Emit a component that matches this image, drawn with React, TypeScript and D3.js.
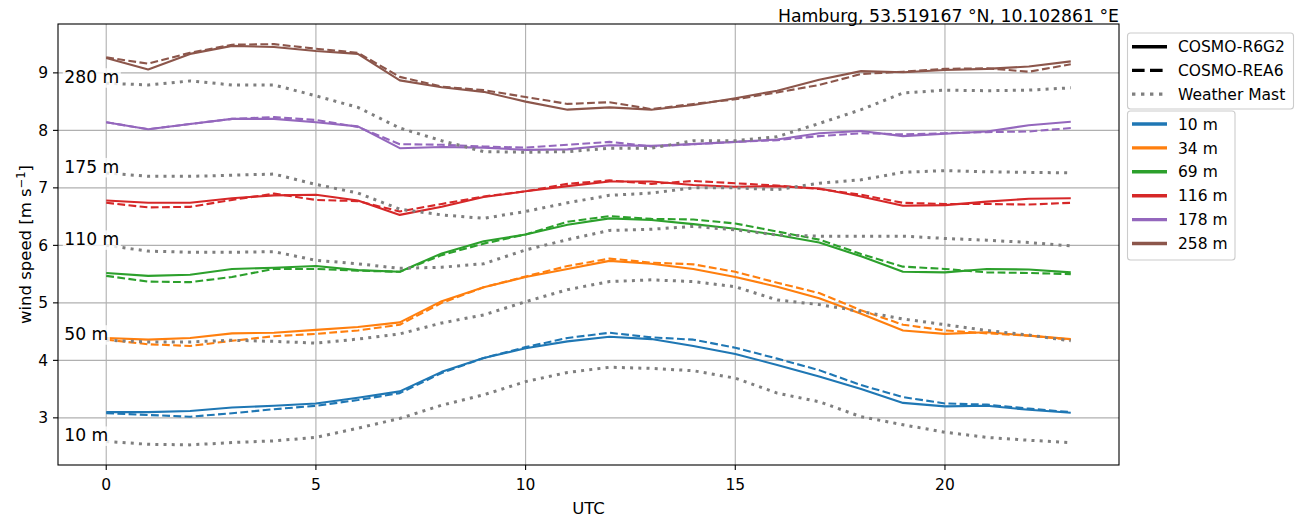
import * as d3 from "d3";

const W = 1299;
const H = 518;
const FONT = "DejaVu Sans, Verdana, sans-serif";

const hours = d3.range(0, 24);

const heights = ["10 m", "34 m", "69 m", "116 m", "178 m", "258 m"];
const colors = ["#1f77b4", "#ff7f0e", "#2ca02c", "#d62728", "#9467bd", "#8c564b"];

// COSMO-R6G2 (solid)
const r6g2_10 = [3.10, 3.10, 3.12, 3.18, 3.21, 3.25, 3.35, 3.46, 3.80, 4.04, 4.21, 4.33, 4.41, 4.37, 4.25, 4.11, 3.92, 3.72, 3.50, 3.26, 3.20, 3.21, 3.14, 3.09];
const r6g2_34 = [4.39, 4.36, 4.39, 4.47, 4.48, 4.53, 4.58, 4.66, 5.03, 5.27, 5.45, 5.59, 5.73, 5.68, 5.59, 5.45, 5.28, 5.08, 4.81, 4.52, 4.46, 4.49, 4.43, 4.37];
const r6g2_69 = [5.52, 5.47, 5.49, 5.59, 5.61, 5.64, 5.57, 5.54, 5.86, 6.07, 6.19, 6.36, 6.47, 6.44, 6.37, 6.29, 6.18, 6.05, 5.81, 5.54, 5.53, 5.59, 5.58, 5.53];
const r6g2_116 = [6.78, 6.74, 6.74, 6.82, 6.87, 6.88, 6.78, 6.53, 6.67, 6.84, 6.94, 7.03, 7.11, 7.11, 7.05, 7.02, 7.03, 6.99, 6.85, 6.69, 6.70, 6.76, 6.81, 6.82];
const r6g2_178 = [8.14, 8.02, 8.11, 8.20, 8.20, 8.14, 8.07, 7.69, 7.71, 7.70, 7.66, 7.67, 7.74, 7.73, 7.76, 7.80, 7.84, 7.95, 7.99, 7.90, 7.94, 7.98, 8.09, 8.15];
const r6g2_258 = [9.26, 9.06, 9.33, 9.47, 9.45, 9.38, 9.33, 8.87, 8.75, 8.67, 8.50, 8.36, 8.40, 8.36, 8.44, 8.56, 8.69, 8.88, 9.03, 9.01, 9.05, 9.07, 9.11, 9.20];

// COSMO-REA6 (dashed)
const rea6_10 = [3.08, 3.05, 3.02, 3.08, 3.15, 3.21, 3.31, 3.43, 3.78, 4.04, 4.23, 4.39, 4.48, 4.40, 4.36, 4.22, 4.03, 3.83, 3.57, 3.36, 3.25, 3.23, 3.16, 3.10];
const rea6_34 = [4.36, 4.28, 4.25, 4.34, 4.42, 4.46, 4.52, 4.62, 5.00, 5.27, 5.46, 5.64, 5.77, 5.70, 5.67, 5.54, 5.35, 5.17, 4.87, 4.62, 4.52, 4.47, 4.43, 4.36];
const rea6_69 = [5.47, 5.37, 5.36, 5.45, 5.59, 5.59, 5.56, 5.54, 5.83, 6.03, 6.19, 6.41, 6.51, 6.46, 6.45, 6.38, 6.24, 6.10, 5.85, 5.63, 5.59, 5.53, 5.52, 5.50];
const rea6_116 = [6.74, 6.66, 6.67, 6.79, 6.90, 6.79, 6.77, 6.59, 6.72, 6.85, 6.94, 7.07, 7.13, 7.07, 7.12, 7.08, 7.04, 6.98, 6.88, 6.74, 6.72, 6.72, 6.71, 6.74];
const rea6_178 = [8.14, 8.02, 8.11, 8.20, 8.23, 8.18, 8.06, 7.76, 7.75, 7.72, 7.70, 7.75, 7.80, 7.72, 7.76, 7.80, 7.83, 7.90, 7.95, 7.93, 7.95, 7.97, 7.98, 8.04];
const rea6_258 = [9.27, 9.16, 9.35, 9.49, 9.50, 9.42, 9.35, 8.93, 8.76, 8.70, 8.58, 8.46, 8.49, 8.37, 8.46, 8.54, 8.66, 8.79, 8.98, 9.02, 9.07, 9.08, 9.02, 9.15];

// Weather mast (dotted)
const mastLabels = ["10 m", "50 m", "110 m", "175 m", "280 m"];
const mast_10 = [2.59, 2.54, 2.53, 2.57, 2.60, 2.66, 2.82, 2.99, 3.22, 3.40, 3.63, 3.79, 3.88, 3.86, 3.82, 3.69, 3.43, 3.28, 3.02, 2.88, 2.75, 2.66, 2.61, 2.57];
const mast_50 = [4.35, 4.32, 4.32, 4.35, 4.33, 4.30, 4.37, 4.46, 4.65, 4.79, 5.02, 5.23, 5.37, 5.40, 5.37, 5.28, 5.05, 4.97, 4.85, 4.72, 4.62, 4.52, 4.44, 4.34];
const mast_110 = [6.00, 5.90, 5.88, 5.88, 5.89, 5.74, 5.68, 5.60, 5.62, 5.68, 5.92, 6.10, 6.26, 6.28, 6.33, 6.27, 6.18, 6.16, 6.16, 6.16, 6.12, 6.09, 6.05, 5.99];
const mast_175 = [7.26, 7.20, 7.20, 7.22, 7.24, 7.06, 6.91, 6.63, 6.53, 6.47, 6.59, 6.74, 6.87, 6.91, 7.00, 7.00, 6.97, 7.08, 7.14, 7.27, 7.30, 7.28, 7.27, 7.26];
const mast_280 = [8.82, 8.79, 8.86, 8.79, 8.79, 8.60, 8.40, 8.04, 7.82, 7.63, 7.62, 7.63, 7.69, 7.69, 7.82, 7.82, 7.89, 8.12, 8.36, 8.65, 8.70, 8.69, 8.70, 8.74];

const r6g2 = [r6g2_10, r6g2_34, r6g2_69, r6g2_116, r6g2_178, r6g2_258];
const rea6 = [rea6_10, rea6_34, rea6_69, rea6_116, rea6_178, rea6_258];
const mast = [mast_10, mast_50, mast_110, mast_175, mast_280];

const xTicks = [0, 5, 10, 15, 20];
const yTicks = [3, 4, 5, 6, 7, 8, 9];

const modelLegend = [
  { label: "COSMO-R6G2", dash: "none", color: "#000", width: 3.4 },
  { label: "COSMO-REA6", dash: "12.6 5.4", color: "#000", width: 3.4 },
  { label: "Weather Mast", dash: "3.4 5.6", color: "#7f7f7f", width: 3.4 },
];

const MAST_COLOR = "#7f7f7f";

// rough DejaVu Sans advance widths (em) for the label boxes
function textWidth(s: string, size: number) {
  let w = 0;
  for (const c of s) {
    if (c === " ") w += 0.318;
    else if (c === "m") w += 0.974;
    else w += 0.636;
  }
  return w * size;
}

export default function App() {
  const left = 58;
  const right = 1119;
  const top = 24;
  const bottom = 465;

  const x = d3.scaleLinear().domain([-1.15, 24.15]).range([left, right]);
  const y = d3.scaleLinear().domain([2.18, 9.85]).range([bottom, top]);

  const line = d3
    .line<number>()
    .x((_, i) => x(hours[i]))
    .y((d) => y(d));

  const tickFont = 15.5;
  const labelFont = 16.5;

  return (
    <div style={{ position: "absolute", left: 0, top: 0, width: W, height: H, background: "#fff" }}>
      <svg width={W} height={H} style={{ display: "block", fontFamily: FONT }}>
        <rect x={0} y={0} width={W} height={H} fill="#fff" />

        {/* grid */}
        <g stroke="#b0b0b0" strokeWidth={1.1}>
          {xTicks.map((t) => (
            <line key={"gx" + t} x1={x(t)} x2={x(t)} y1={top} y2={bottom} />
          ))}
          {yTicks.map((t) => (
            <line key={"gy" + t} x1={left} x2={right} y1={y(t)} y2={y(t)} />
          ))}
        </g>

        <defs>
          <clipPath id="plot-clip">
            <rect x={left} y={top} width={right - left} height={bottom - top} />
          </clipPath>
        </defs>

        <g clipPath="url(#plot-clip)" fill="none" strokeLinejoin="round">
          {heights.map((h, k) => (
            <g key={h}>
              <path d={line(r6g2[k]) ?? ""} stroke={colors[k]} strokeWidth={2.1} />
              <path d={line(rea6[k]) ?? ""} stroke={colors[k]} strokeWidth={2.1} strokeDasharray="7.8 3.4" />
            </g>
          ))}
          {mast.map((m, k) => (
            <path
              key={"m" + k}
              d={line(m) ?? ""}
              stroke={MAST_COLOR}
              strokeWidth={3}
              strokeDasharray="3 5.2"
            />
          ))}
        </g>

        {/* mast height labels */}
        {mast.map((m, k) => {
          const fs = 17.2;
          const tx = x(-1);
          const ty = y(m[0]);
          const tw = textWidth(mastLabels[k], fs);
          return (
            <g key={"lbl" + k}>
              <rect x={tx - 1.5} y={ty - 15} width={tw + 3} height={19.5} fill="#fff" fillOpacity={0.8} />
              <text x={tx} y={ty} fontSize={fs} fill="#000">
                {mastLabels[k]}
              </text>
            </g>
          );
        })}

        {/* axes frame */}
        <rect x={left} y={top} width={right - left} height={bottom - top} fill="none" stroke="#000" strokeWidth={1.1} />

        {/* x ticks */}
        {xTicks.map((t) => (
          <g key={"xt" + t}>
            <line x1={x(t)} x2={x(t)} y1={bottom} y2={bottom + 5} stroke="#000" strokeWidth={1.1} />
            <text x={x(t)} y={bottom + 25} fontSize={tickFont} textAnchor="middle" fill="#000">
              {t}
            </text>
          </g>
        ))}
        {/* y ticks */}
        {yTicks.map((t) => (
          <g key={"yt" + t}>
            <line x1={left - 5} x2={left} y1={y(t)} y2={y(t)} stroke="#000" strokeWidth={1.1} />
            <text x={left - 10} y={y(t) + 5.6} fontSize={tickFont} textAnchor="end" fill="#000">
              {t}
            </text>
          </g>
        ))}

        <text x={(left + right) / 2} y={514} fontSize={labelFont} textAnchor="middle" fill="#000">
          UTC
        </text>
        <text
          transform={`translate(31,${(top + bottom) / 2}) rotate(-90)`}
          fontSize={labelFont}
          textAnchor="middle"
          fill="#000"
        >
          wind speed [m s
          <tspan dy={-6} fontSize={11.5}>
            −1
          </tspan>
          <tspan dy={6}>]</tspan>
        </text>

        <text x={right} y={22} fontSize={17.3} textAnchor="end" fill="#000">
          Hamburg, 53.519167 °N, 10.102861 °E
        </text>

        {/* legend: models */}
        <rect x={1127.5} y={33} width={166} height={76} rx={3} fill="#fff" fillOpacity={0.8} stroke="#cccccc" strokeWidth={1.1} />
        {modelLegend.map((d, i) => {
          const cy = 46.7 + i * 23.7;
          return (
            <g key={d.label}>
              <line x1={1132} x2={1167} y1={cy} y2={cy} stroke={d.color} strokeWidth={d.width} strokeDasharray={d.dash} />
              <text x={1178} y={cy + 5.6} fontSize={tickFont} fill="#000">
                {d.label}
              </text>
            </g>
          );
        })}

        {/* legend: heights */}
        <rect x={1127.5} y={111} width={107.5} height={149} rx={3} fill="#fff" fillOpacity={0.8} stroke="#cccccc" strokeWidth={1.1} />
        {heights.map((h, i) => {
          const cy = 124 + i * 23.9;
          return (
            <g key={"lh" + h}>
              <line x1={1132} x2={1167} y1={cy} y2={cy} stroke={colors[i]} strokeWidth={3.4} />
              <text x={1178} y={cy + 5.6} fontSize={tickFont} fill="#000">
                {h}
              </text>
            </g>
          );
        })}
      </svg>
    </div>
  );
}
